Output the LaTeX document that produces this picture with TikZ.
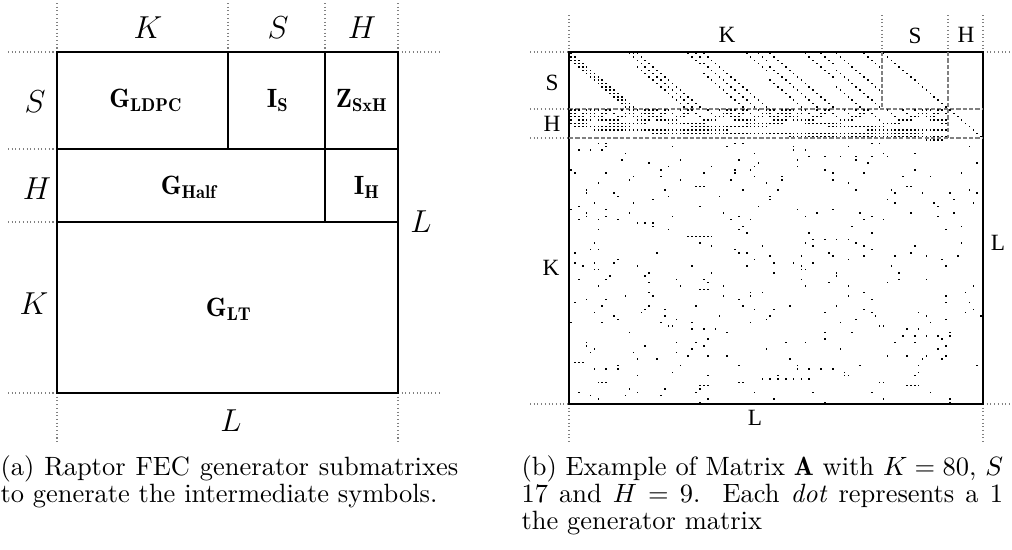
\documentclass[tikz,border=0pt]{standalone}
\usepackage{fontspec}
\usepackage{amsmath}
\newfontfamily\timesfont{Liberation Serif}

% counters for the Gray code columns
\newcount\gcol
\newcount\gwt

% one entry of matrix A (column, row)
\newcommand{\mdot}[2]{\fill ({569+(#1)*3.906+1.2},{52+(#2)*3.32+0.9}) rectangle ++(1.6,1.5);}

\tikzset{
    guide/.style={densely dotted, gray, line width=0.4pt},
    block/.style={draw, line width=0.8pt},
    part/.style={dash pattern=on 1.6pt off 0.8pt, gray, line width=0.45pt},
    captext/.style={anchor=base west, inner sep=0pt},
    alb/.style={font=\large},
    tlbl/.style={font=\timesfont\fontsize{8.8}{10}\selectfont},
}

\begin{document}
\begin{tikzpicture}[x=0.378pt, y=-0.378pt]
    \useasboundingbox (0,0) rectangle (1012,549);

    % (a) guide lines
    \foreach \x in {57,228,325,398} \draw[guide] (\x,3) -- (\x,52);
    \foreach \y in {52,149,222,393} \draw[guide] (8,\y) -- (57,\y);
    \draw[guide] (398,52) -- (440,52);
    \draw[guide] (398,393) -- (440,393);
    \draw[guide] (57,393) -- (57,442);
    \draw[guide] (398,393) -- (398,442);

    % (a) submatrix blocks
    \draw[block] (57,52) rectangle (398,393);
    \draw[block] (57,149) -- (398,149);
    \draw[block] (57,222) -- (398,222);
    \draw[block] (228,52) -- (228,149);
    \draw[block] (325,52) -- (325,222);

    % (a) block names
    \node (gldpc) at (146,100.5) {$\mathbf{G_{LDPC}}$};
    \node (is) at (278,100.5) {$\mathbf{I_S}$};
    \node (zsh) at (362,100.5) {$\mathbf{Z_{SxH}}$};
    \node (ghalf) at (189,187) {$\mathbf{G_{Half}}$};
    \node (ih) at (367,187) {$\mathbf{I_H}$};
    \node (glt) at (229,309) {$\mathbf{G_{LT}}$};

    % (a) sizes
    \node[alb] (ka) at (148,28) {$K$};
    \node[alb] (sa) at (278,28) {$S$};
    \node[alb] (ha) at (362,28) {$H$};
    \node[alb] (sl) at (35,102) {$S$};
    \node[alb] (hl) at (37,189) {$H$};
    \node[alb] (kl) at (34,304) {$K$};
    \node[alb] (lr) at (421,222) {$L$};
    \node[alb] (lb) at (231,421) {$L$};

    % (b) guide lines
    \foreach \x in {569,882,948,983} \draw[guide] (\x,15) -- (\x,52);
    \foreach \y in {52,109,138,404} \draw[guide] (530,\y) -- (569,\y);
    \draw[guide] (983,52) -- (1010,52);
    \draw[guide] (983,404) -- (1010,404);
    \draw[guide] (569,404) -- (569,442);
    \draw[guide] (983,404) -- (983,442);

    % (b) matrix frame and parts
    \draw[line width=0.5pt] (569,52) rectangle (983,404);
    \draw[part] (569,109) -- (983,109);
    \draw[part] (569,138) -- (983,138);
    \draw[part] (882,52) -- (882,109);
    \draw[part] (948,52) -- (948,138);

    % (b) LDPC rows
    \foreach \i in {0,...,79} {
        \pgfmathtruncatemacro\a{1+mod(floor(\i/17),16)}
        \foreach \t in {0,1,2} {
            \pgfmathtruncatemacro\r{mod(\i+\t*\a,17)}
            \mdot{\i}{\r}
        }
    }
    \foreach \i in {0,...,16} {\mdot{80+\i}{\i}}

    % (b) Half rows from Gray codes with 5 bits set
    \global\gcol=0
    \foreach \k in {0,...,511} {
        \global\gwt=0
        \foreach \h in {0,...,8} {
            \pgfmathtruncatemacro\gb{mod(floor(\k/2^\h)+floor(\k/2^(\h+1)),2)}
            \global\advance\gwt by \gb
        }
        \ifnum\gwt=5 \ifnum\gcol<97
            \edef\gj{\the\gcol}
            \foreach \h in {0,...,8} {
                \pgfmathtruncatemacro\gb{mod(floor(\k/2^\h)+floor(\k/2^(\h+1)),2)}
                \ifnum\gb=1 \mdot{\gj}{17+\h} \fi
            }
            \global\advance\gcol by 1
        \fi \fi
    }
    \foreach \i in {0,...,8} {\mdot{97+\i}{17+\i}}

    % (b) LT rows
    \pgfmathsetseed{42}
    \foreach \r in {0,...,79} {
        \pgfmathtruncatemacro\d{random(3,7)}
        \pgfmathtruncatemacro\a{random(1,106)}
        \pgfmathtruncatemacro\b{random(0,106)}
        \foreach \t in {1,...,\d} {
            \pgfmathtruncatemacro\c{mod(\b+\t*\a,107)}
            \ifnum\c<106 \mdot{\c}{26+\r} \fi
        }
    }

    % (b) sizes
    \node[tlbl] (kb) at (727,35) {K};
    \node[tlbl] (sb) at (915,36) {S};
    \node[tlbl] (hb) at (966,35) {H};
    \node[tlbl] (sbl) at (552,83) {S};
    \node[tlbl] (hbl) at (552,124) {H};
    \node[tlbl] (kbl) at (551,268) {K};
    \node[tlbl] (lbr) at (998,243) {L};
    \node[tlbl] (lbb) at (755,418) {L};

    % captions
    \node[captext] (capa1) at (0,475) {\makebox[173pt][s]{(a) Raptor FEC generator submatrixes}};
    \node[captext] (capa2) at (0,502) {to generate the intermediate symbols.};
    \node[captext] (capb1) at (521,475) {\makebox[182pt][s]{(b) Example of Matrix $\mathbf{A}$ with $K = 80$, $S$}};
    \node[captext] (capb2) at (521,502) {\makebox[182pt][s]{17 and $H = 9$.\ \ Each \emph{dot} represents a 1}};
    \node[captext] (capb3) at (521,529) {the generator matrix};
\end{tikzpicture}
\end{document}
